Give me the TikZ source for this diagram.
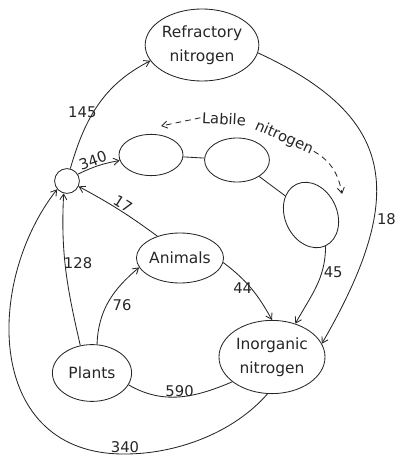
\documentclass[tikz,border=0pt]{standalone}
\usepackage{fontspec}
\setmainfont{DejaVu Sans}
\usepackage{tikz}
\usetikzlibrary{arrows.meta, shapes.geometric}
\definecolor{my_ink}{HTML}{262626}

\begin{document}
\begin{tikzpicture}[
    x=0.025cm, y=0.025cm,
    pool/.style={ellipse, draw=my_ink, line width=0.6pt, inner sep=0pt,
        align=center, text=my_ink, font=\fontsize{11}{17}\selectfont},
    flow/.style={draw=my_ink, line width=0.6pt,
        -{Straight Barb[length=4pt, width=5pt]}},
    link/.style={draw=my_ink, line width=0.6pt},
    hint/.style={draw=my_ink, line width=0.6pt, dash pattern=on 4pt off 3pt,
        -{Straight Barb[length=4pt, width=5pt]}},
    amount/.style={font=\fontsize{10.5}{12}\selectfont, text=my_ink, inner sep=1pt},
    labtext/.style={font=\fontsize{10.5}{12}\selectfont, text=my_ink, inner sep=1pt}
]
\useasboundingbox (0,0) rectangle (397,456);

%% ================================================================
%% Pools
%% ================================================================
\node[pool, minimum width=2.55cm, minimum height=1.8cm]
    (refractory) at (202,411) {Refractory\\nitrogen};
\node[circle, draw=my_ink, line width=0.6pt, minimum size=0.62cm, inner sep=0pt]
    (hub) at (67,275) {};

%% --- Labile nitrogen: three linked pools ---
\node[pool, minimum width=1.6cm, minimum height=1.03cm] (labileA) at (151,301) {};
\node[pool, minimum width=1.62cm, minimum height=1.1cm] (labileB) at (237,296) {};
\node[pool, minimum width=1.3cm, minimum height=1.7cm, rotate=25]
    (labileC) at (311,241) {};

\node[pool, minimum width=1.95cm, minimum height=1.25cm] (animals) at (180,198) {Animals};
\node[pool, minimum width=1.98cm, minimum height=1.42cm] (plants) at (92,83) {Plants};
\node[pool, minimum width=2.65cm, minimum height=1.83cm]
    (inorganic) at (272,99) {Inorganic\\nitrogen};

%% ================================================================
%% Labile label with dashed arrows
%% ================================================================
\node[labtext, rotate=-3] (labileword) at (224,337) {Labile};
\node[labtext, rotate=-24] (nitrogenword) at (284,318) {nitrogen};
\coordinate (labtipleft) at (161,330);
\coordinate (labtipright) at (342,262);
\draw[hint] (labileword.west) -- (labtipleft);
\draw[hint] (nitrogenword.east) to[out=-30, in=100] (labtipright);

\draw[link] (labileA) -- (labileB);
\draw[link] (labileB) -- (labileC);

%% ================================================================
%% Flows
%% ================================================================
\draw[flow] (hub.75) to[out=74, in=207]
    node[amount, pos=0.42, anchor=east, xshift=4pt, yshift=1pt] {145} (refractory.197);
\draw[flow] (refractory.-8) .. controls +(136,-63) and +(88,152) ..
    node[amount, pos=0.68, anchor=west, xshift=1pt] {18} (inorganic.15);
\draw[flow] (hub.32) to[bend left=8]
    node[amount, sloped, above, pos=0.42, inner sep=0.5pt] {340} (labileA.190);
\draw[flow] (labileC.south) to[out=-90, in=61]
    node[amount, pos=0.3, anchor=west] {45} (inorganic.55);
\draw[flow] (animals.136) to[bend right=4]
    node[amount, sloped, above, pos=0.5] {17} (hub.-25);
\draw[flow] (plants.113) to[out=103, in=-93]
    node[amount, pos=0.55, anchor=west, xshift=-2pt] {128} (hub.-105);
\draw[flow] (plants.80) to[out=88, in=220]
    node[amount, pos=0.45, anchor=west, xshift=3pt] {76} (animals.193);
\draw[flow] (animals.-6) to[out=-37, in=119]
    node[amount, pos=0.5, anchor=east, xshift=2pt] {44} (inorganic.90);
\draw[link] (inorganic.-148) to[out=203, in=-30]
    node[amount, pos=0.5, above, inner sep=0pt] {590} (plants.-18);

%% --- wide loop round the bottom back to the hub ---
\coordinate (loopbottom) at (125,2);
\draw[flow] (inorganic.-97) .. controls +(-35,-40) and +(50,0) .. (loopbottom)
    node[amount, above, inner sep=0.5pt] {340}
    .. controls +(-140,-1) and +(-73,-93) .. (hub.220);

\end{tikzpicture}
\end{document}
